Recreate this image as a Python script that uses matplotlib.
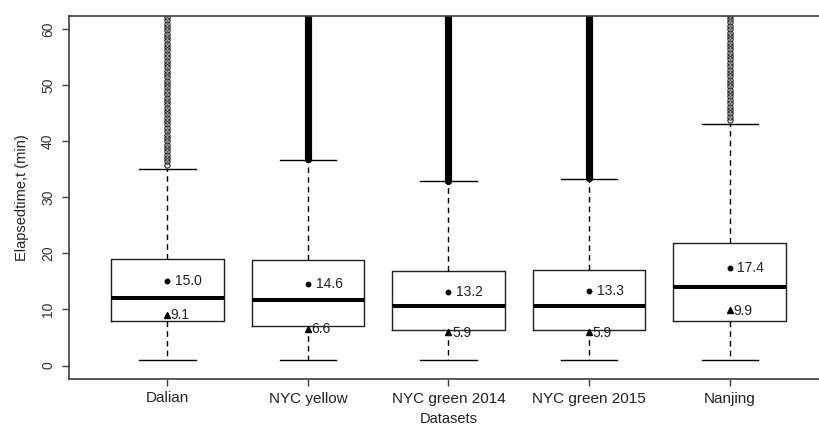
import numpy as np
import matplotlib
matplotlib.use("Agg")
import matplotlib.pyplot as plt

plt.rcParams['font.family'] = ['Liberation Sans', 'DejaVu Sans']

categories = ["Dalian", "NYC yellow", "NYC green 2014", "NYC green 2015", "Nanjing"]
whisker_low = [1.0, 1.0, 1.0, 1.0, 1.0]
q1 = [8.0, 7.1, 6.4, 6.4, 8.0]
median = [12.0, 11.7, 10.6, 10.6, 14.0]
q3 = [19.0, 18.9, 16.9, 17.1, 21.9]
whisker_high = [35.0, 36.6, 32.9, 33.2, 43.0]
mean_vals = [15.0, 14.6, 13.2, 13.3, 17.4]
tri_vals = [9.1, 6.6, 5.9, 5.9, 9.9]
# outlier stacks: start, end, spacing (visual stacks of individual outliers)
outlier_start = [35.8, 36.8, 33.0, 33.4, 43.8]
outlier_end = [63.0, 63.0, 63.0, 63.0, 63.0]
outlier_step = [0.6, 0.08, 0.08, 0.08, 0.6]
yticks = [0, 10, 20, 30, 40, 50, 60]

W, H = 819, 425
fig = plt.figure(figsize=(W / 100, H / 100), dpi=100)
ax = fig.add_axes([69 / W, 46 / H, (828 - 69) / W, (409.3 - 46) / H])

spine_col = '#404040'
positions = np.arange(1, len(categories) + 1)

for i, pos in enumerate(positions):
    fl = np.arange(outlier_start[i], outlier_end[i], outlier_step[i])
    dense = outlier_step[i] < 0.2
    stats = [dict(med=median[i], q1=q1[i], q3=q3[i],
                  whislo=whisker_low[i], whishi=whisker_high[i], fliers=fl)]
    ax.bxp(stats, positions=[pos], widths=0.8, capwidths=0.4, showfliers=True,
           boxprops=dict(color='#222222', linewidth=1.0),
           medianprops=dict(color='black', linewidth=2.9, solid_capstyle='butt'),
           whiskerprops=dict(color='black', linewidth=1.0, linestyle=(0, (4, 3))),
           capprops=dict(color='black', linewidth=1.0),
           flierprops=dict(marker='o', markerfacecolor='none',
                           markeredgecolor='black' if dense else '#222222',
                           markersize=4.0 if dense else 3.8,
                           markeredgewidth=1.1 if dense else 0.8,
                           linestyle='none'),
           manage_ticks=False, zorder=2)

ax.plot(positions, mean_vals, linestyle='none', marker='o', color='black',
        markersize=3.2, zorder=4)
ax.plot(positions, tri_vals, linestyle='none', marker='^', color='black',
        markersize=5, zorder=4)
for pos, m, t in zip(positions, mean_vals, tri_vals):
    ax.annotate(f"{m:.1f}", (pos, m), xytext=(5.5, 0), textcoords='offset points',
                ha='left', va='center', fontsize=10, color='#222222')
    ax.annotate(f"{t:.1f}", (pos, t), xytext=(2.5, -0.5), textcoords='offset points',
                ha='left', va='center', fontsize=10, color='#222222')

ax.set_xlim(0.3, 5.7)
ax.set_ylim(-2.4, 62.4)
ax.set_xticks(positions)
ax.set_xticklabels(categories, fontsize=11, color='#222222')
ax.set_yticks(yticks)
ax.set_yticklabels([str(v) for v in yticks], fontsize=10, rotation=90,
                   va='center', color='#333333')
ax.tick_params(axis='both', length=5, width=1.0, color=spine_col)
ax.tick_params(axis='y', pad=5)
ax.tick_params(axis='x', pad=4)
for s in ax.spines.values():
    s.set_color(spine_col)
    s.set_linewidth(1.2)

ax.set_ylabel("Elapsedtime,t (min)", fontsize=10.5, color='#222222', labelpad=9)
ax.set_xlabel("Datasets", fontsize=10.5, color='#222222', labelpad=5)

fig.savefig("out.png", dpi=100)
